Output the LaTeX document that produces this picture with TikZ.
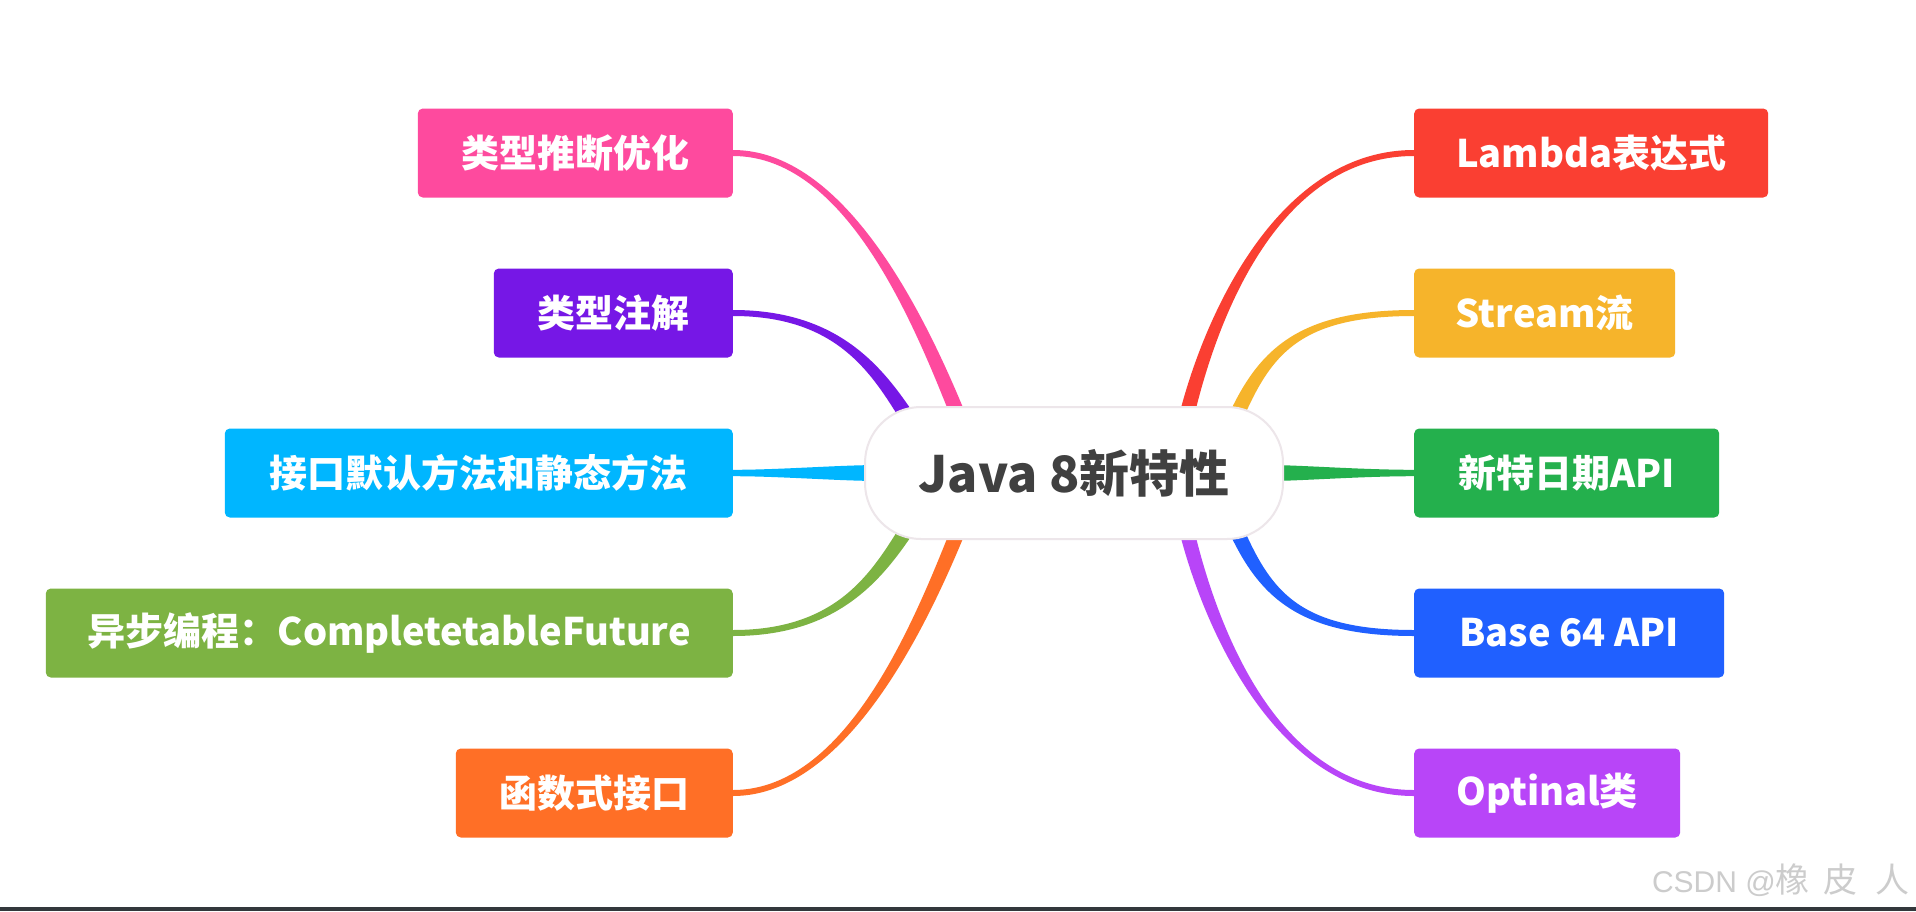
\documentclass[tikz,border=0pt]{standalone}
\usepackage{fontspec}
\setmainfont{Noto Sans CJK SC}
\newfontfamily\wmfont{Liberation Sans}
\usetikzlibrary{calc,backgrounds}
\definecolor{cPink}{HTML}{FE4A9E}
\definecolor{cPurple}{HTML}{7617E6}
\definecolor{cCyan}{HTML}{00B6FF}
\definecolor{cGreenL}{HTML}{7DB343}
\definecolor{cOrange}{HTML}{FF6F26}
\definecolor{cRed}{HTML}{FA3F32}
\definecolor{cYellow}{HTML}{F6B42B}
\definecolor{cGreenR}{HTML}{24B04D}
\definecolor{cBlue}{HTML}{2060FF}
\definecolor{cViolet}{HTML}{B845F8}
\definecolor{cText}{HTML}{404040}
\definecolor{cBorder}{HTML}{EDE6EA}
\definecolor{cBar}{HTML}{33383C}
\definecolor{cWM}{HTML}{CCCCCC}
% #1 colour, #2 start, #3 control 1, #4 control 2, #5 end, #6 half-width normal at start, #7 at end
\newcommand\mmbranch[7]{%
  \fill[#1] ($#2+#6$) .. controls ($#3+#6$) and ($#4+#7$) .. ($#5+#7$)
    -- ($#5-#7$) .. controls ($#4-#7$) and ($#3-#6$) .. ($#2-#6$) -- cycle;}
\begin{document}
\begin{tikzpicture}[x=1pt,y=-1pt,
  box/.style={rounded corners=5pt, minimum height=89pt, inner sep=0pt,
    text=white, font=\fontsize{38}{40}\selectfont\bfseries},
  lbox/.style={box, anchor=east},
  rbox/.style={box, anchor=west},
  centre/.style={fill=white, draw=cBorder, line width=2pt, rounded corners=56pt,
    minimum width=418pt, minimum height=132pt, inner sep=0pt,
    text=cText, font=\fontsize{50}{52}\selectfont\bfseries},
  mark wm/.style={anchor=east, inner sep=0pt, text=cWM}]
\useasboundingbox (0,0) rectangle (1916,911);
\begin{pgfonlayer}{background}
\fill[white] (0,0) rectangle (1916,911);
\fill[cBar] (0,907) rectangle (1916,911);
\end{pgfonlayer}

\node[centre] (c) at (1074,473) {Java 8新特性};

\node[lbox, fill=cPink,   minimum width=315pt] (l1) at (733,153) {类型推断优化};
\node[lbox, fill=cPurple, minimum width=239pt] (l2) at (733,313) {类型注解};
\node[lbox, fill=cCyan,   minimum width=508pt] (l3) at (733,473) {接口默认方法和静态方法};
\node[lbox, fill=cGreenL, minimum width=687pt] (l4) at (733,633) {异步编程：CompletetableFuture};
\node[lbox, fill=cOrange, minimum width=277pt] (l5) at (733,793) {函数式接口};

\node[rbox, fill=cRed,    minimum width=354pt] (r1) at (1414,153) {Lambda表达式};
\node[rbox, fill=cYellow, minimum width=261pt] (r2) at (1414,313) {Stream流};
\node[rbox, fill=cGreenR, minimum width=305pt] (r3) at (1414,473) {新特日期API};
\node[rbox, fill=cBlue,   minimum width=310pt] (r4) at (1414,633) {Base 64 API};
\node[rbox, fill=cViolet, minimum width=266pt] (r5) at (1414,793) {Optinal类};

\coordinate (s1) at ($(c.center)+(-108,-38)$);
\coordinate (s2) at ($(c.center)+(-155,-38)$);
\coordinate (s3) at ($(c.center)+(-194,0)$);
\coordinate (s4) at ($(c.center)+(-155,38)$);
\coordinate (s5) at ($(c.center)+(-108,38)$);
\coordinate (t1) at ($(c.center)+(108,-37)$);
\coordinate (t2) at ($(c.center)+(154,-38)$);
\coordinate (t3) at ($(c.center)+(194,0)$);
\coordinate (t4) at ($(c.center)+(154,38)$);
\coordinate (t5) at ($(c.center)+(108,37)$);

\begin{pgfonlayer}{background}
\mmbranch{cPink}{(s1)}{(928,339)}{(852,153)}{(l1.east)}{(6.98,-2.75)}{(0,-3)}
\mmbranch{cPurple}{(s2)}{(885,384)}{(850,313)}{(l2.east)}{(6.23,-4.2)}{(0,-3)}
\mmbranch{cCyan}{(s3)}{(840,473)}{(780,473)}{(l3.east)}{(0,-8)}{(0,-3.2)}
\mmbranch{cGreenL}{(s4)}{(885,562)}{(850,633)}{(l4.east)}{(-6.23,-4.2)}{(0,-3)}
\mmbranch{cOrange}{(s5)}{(928,607)}{(852,793)}{(l5.east)}{(-6.98,-2.75)}{(0,-3)}
\mmbranch{cRed}{(t1)}{(1201,344)}{(1267,153)}{(r1.west)}{(7.35,1.5)}{(0,3)}
\mmbranch{cYellow}{(t2)}{(1260,358)}{(1290,313)}{(r2.west)}{(6.92,2.89)}{(0,3)}
\mmbranch{cGreenR}{(t3)}{(1300,473)}{(1360,473)}{(r3.west)}{(0,8)}{(0,3.2)}
\mmbranch{cBlue}{(t4)}{(1260,588)}{(1290,633)}{(r4.west)}{(-6.92,2.89)}{(0,3)}
\mmbranch{cViolet}{(t5)}{(1201,602)}{(1267,793)}{(r5.west)}{(-7.35,1.5)}{(0,3)}
\end{pgfonlayer}

\node[mark wm] (wm) at (1910,880) {{\wmfont\fontsize{30}{32}\selectfont CSDN @}{\fontsize{34}{36}\selectfont 橡\hspace{14pt}皮\hspace{18pt}人}};
\end{tikzpicture}
\end{document}
